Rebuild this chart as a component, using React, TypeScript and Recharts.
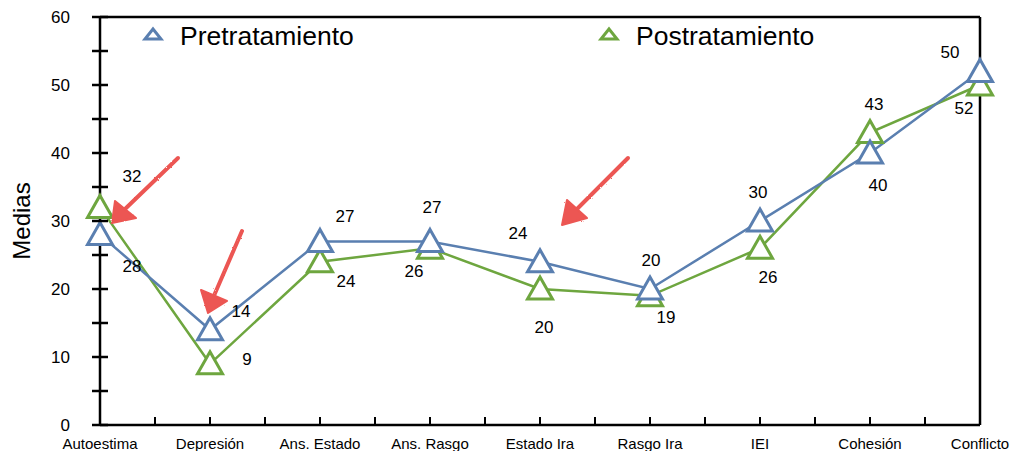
import React from "react";
import { LineChart, Line, XAxis, YAxis, ReferenceLine, LabelList, Legend } from "recharts";

const categories = ["Autoestima", "Depresión", "Ans. Estado", "Ans. Rasgo", "Estado Ira", "Rasgo Ira", "IEI", "Cohesión", "Conflicto"];
const pretratamiento = [28, 14, 27, 27, 24, 20, 30, 40, 52];
const postratamiento = [32, 9, 24, 26, 20, 19, 26, 43, 50];
const yTicks = [0, 5, 10, 15, 20, 25, 30, 35, 40, 45, 50, 55, 60];

const data = categories.map((name, i) => ({ name, pre: pretratamiento[i], post: postratamiento[i] }));

// layout
const W = 1023;
const H = 451;
const MARGIN = { top: 17, right: 43, bottom: 0, left: 0 };
const Y_AXIS_W = 100;
const X_AXIS_H = 26;
const PLOT_W = W - MARGIN.left - MARGIN.right - Y_AXIS_W;
const HALF_STEP = PLOT_W / (categories.length - 1) / 2;

const FONT = "'Liberation Sans', Arial, Helvetica, sans-serif";
const BLUE = "#5a7fb0";
const GREEN = "#6ea63f";
const RED = "#ec5652";

// value label nudges (dx, dy) from each point
const preLabelOffsets = [[32, 32], [31, -18], [25, -25], [2, -34], [-22, -28], [1, -29], [-2, -29], [8, 32], [-16, 37]];
const postLabelOffsets = [[32, -31], [37, -4], [26, 20], [-16, 23], [4, 38], [16, 22], [8, 29], [4, -28], [-30, -33]];

const triangleDot = (color: string) => (props: any) => {
  const { cx, cy, index } = props;
  if (cx == null || cy == null) return <g key={index} />;
  return (
    <path
      key={index}
      d={`M${cx},${cy - 12} L${cx + 12.5},${cy + 10} L${cx - 12.5},${cy + 10} Z`}
      fill="#fff"
      stroke={color}
      strokeWidth={3}
    />
  );
};

const valueLabel = (offsets: number[][]) => (props: any) => {
  const { x, y, value, index } = props;
  const [dx, dy] = offsets[index] || [0, -20];
  return (
    <text
      key={index}
      x={x + dx}
      y={y + dy}
      textAnchor="middle"
      dominantBaseline="central"
      fontSize={17}
      fontFamily={FONT}
      fill="#000"
    >
      {value}
    </text>
  );
};

const XTick = (props: any) => {
  const { x, y, payload, index } = props;
  return (
    <g>
      <line x1={x} y1={y} x2={x} y2={y - 8} stroke="#000" strokeWidth={2} />
      {index < categories.length - 1 && (
        <line x1={x + HALF_STEP} y1={y} x2={x + HALF_STEP} y2={y - 8} stroke="#000" strokeWidth={2} />
      )}
      <text x={x} y={y + 18} textAnchor="middle" dominantBaseline="central" fontSize={15} fontFamily={FONT} fill="#000">
        {payload.value}
      </text>
    </g>
  );
};

const YTick = (props: any) => {
  const { x, y, payload } = props;
  return (
    <g>
      <line x1={x - 8} y1={y} x2={x + 8} y2={y} stroke="#000" strokeWidth={2.5} />
      {payload.value % 10 === 0 && (
        <text x={x - 30} y={y} textAnchor="end" dominantBaseline="central" fontSize={17} fontFamily={FONT} fill="#000">
          {payload.value}
        </text>
      )}
    </g>
  );
};

const legendItems = [
  { name: "Pretratamiento", color: BLUE, x: 153 },
  { name: "Postratamiento", color: GREEN, x: 609 },
];

const LegendContent = () => (
  <svg width={W} height={60} style={{ display: "block" }}>
    {legendItems.map((it) => (
      <g key={it.name}>
        <path
          d={`M${it.x},${29} L${it.x + 8},${39} L${it.x - 8},${39} Z`}
          fill="#fff"
          stroke={it.color}
          strokeWidth={3}
        />
        <text x={it.x + 27} y={45} fontSize={26.5} fontFamily={FONT} fill="#000">
          {it.name}
        </text>
      </g>
    ))}
  </svg>
);

const YLabel = (props: any) => {
  const vb = props.viewBox || { y: 17, height: 408 };
  const cy = vb.y + vb.height / 2;
  return (
    <text
      transform={`translate(21, ${cy}) rotate(-90)`}
      textAnchor="middle"
      dominantBaseline="central"
      fontSize={24}
      fontFamily={FONT}
      fill="#000"
    >
      Medias
    </text>
  );
};

// hand-drawn red pointer arrows
const arrows = [
  { from: [178, 158], to: [124, 210], head: [[112, 223], [115, 201], [136, 218]] },
  { from: [242, 231], to: [213, 298], head: [[208, 313], [201, 290], [227, 301]] },
  { from: [628, 158], to: [574, 212], head: [[562, 225], [567, 200], [587, 218]] },
];

const RedArrows = () => (
  <svg width={W} height={H} style={{ position: "absolute", left: 0, top: 0, pointerEvents: "none" }}>
    <defs>
      <filter id="rough" x="-10%" y="-10%" width="120%" height="120%">
        <feTurbulence type="fractalNoise" baseFrequency="0.7" numOctaves={2} result="noise" />
        <feDisplacementMap in="SourceGraphic" in2="noise" scale={2} />
      </filter>
    </defs>
    <g filter="url(#rough)">
      {arrows.map((a, i) => (
        <g key={i}>
          <line x1={a.from[0]} y1={a.from[1]} x2={a.to[0]} y2={a.to[1]} stroke={RED} strokeWidth={4} strokeLinecap="round" />
          <polygon points={a.head.map((p) => p.join(",")).join(" ")} fill={RED} stroke={RED} strokeWidth={2} strokeLinejoin="round" />
        </g>
      ))}
    </g>
  </svg>
);

export default function App() {
  return (
    <div style={{ position: "absolute", left: 0, top: 0, width: W, height: H, background: "#fff", fontFamily: FONT }}>
      <LineChart width={W} height={H} data={data} margin={MARGIN}>
        <XAxis
          dataKey="name"
          height={X_AXIS_H}
          interval={0}
          tickSize={0}
          tickMargin={0}
          tick={<XTick />}
          tickLine={false}
          axisLine={{ stroke: "#000", strokeWidth: 2.5 }}
        />
        <YAxis
          width={Y_AXIS_W}
          domain={[0, 60]}
          ticks={yTicks}
          interval={0}
          tickSize={0}
          tickMargin={0}
          tick={<YTick />}
          tickLine={false}
          axisLine={{ stroke: "#000", strokeWidth: 2.5 }}
          label={<YLabel />}
        />
        <ReferenceLine y={60} stroke="#000" strokeWidth={2.5} />
        <ReferenceLine x="Conflicto" stroke="#000" strokeWidth={2.5} />
        <Legend
          layout="horizontal"
          verticalAlign="middle"
          align="center"
          content={<LegendContent />}
          wrapperStyle={{ top: 0, left: 0, width: W, height: 60 }}
        />
        <Line
          dataKey="post"
          name="Postratamiento"
          stroke={GREEN}
          strokeWidth={2.5}
          dot={triangleDot(GREEN)}
          isAnimationActive={false}
        >
          <LabelList dataKey="post" content={valueLabel(postLabelOffsets)} />
        </Line>
        <Line
          dataKey="pre"
          name="Pretratamiento"
          stroke={BLUE}
          strokeWidth={2.5}
          dot={triangleDot(BLUE)}
          isAnimationActive={false}
        >
          <LabelList dataKey="pre" content={valueLabel(preLabelOffsets)} />
        </Line>
      </LineChart>
      <RedArrows />
    </div>
  );
}
